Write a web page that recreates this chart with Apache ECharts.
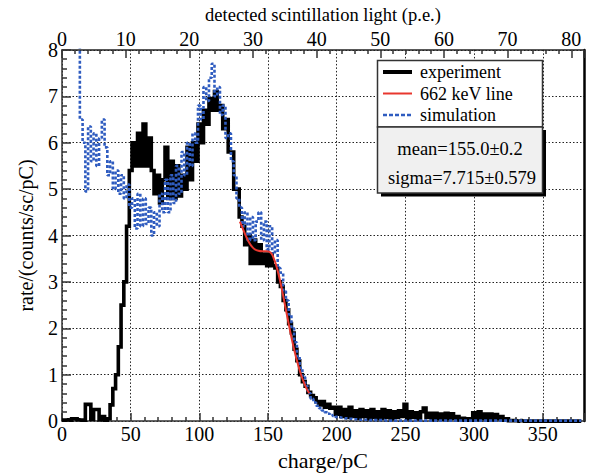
<!DOCTYPE html>
<html><head><meta charset="utf-8">
<script src="https://cdn.jsdelivr.net/npm/echarts@6/dist/echarts.min.js"></script>
<style>html,body{margin:0;padding:0;background:#fff}#c{width:591px;height:476px}</style>
</head><body><div id="c"></div>
<script>
const FONT = '"Liberation Serif","Times New Roman",serif';

// bin centres of the charge histogram (pC): first bin and bin width
const chargeStart = 0;
const chargeStep = 2;

// experiment histogram, rate/(counts/sc/pC), one value per 2 pC bin from 0 to 378 pC
const experiment = [
  0.02,0.02,0.03,0.02,0.05,   0.05,0.03,0.02,0.02,0.36,
  0.36,0.04,0.25,0.25,0.03,   0.1,0.02,0.05,0.35,0.7,
  1.0,1.6,2.5,3.0,4.2,        5.4,6.0,5.5,6.2,5.5,
  6.4,5.5,6.1,5.4,4.9,        5.3,4.7,5.2,5.9,4.8,
  5.6,4.8,5.5,4.85,5.3,       5.0,5.9,5.2,6.0,5.6,
  6.4,6.0,6.7,6.4,6.95,       6.7,7.1,6.7,6.8,6.3,
  6.5,5.8,5.8,5.0,5.0,        4.4,4.2,3.8,4.0,3.4,
  3.9,3.4,3.8,3.4,3.6,        3.35,3.6,3.35,3.3,3.0,
  2.9,2.6,2.4,2.1,1.9,        1.55,1.3,1.0,0.85,0.75,
  0.62,0.55,0.5,0.42,0.35,    0.42,0.3,0.36,0.28,0.3,
  0.15,0.3,0.1,0.25,0.08,     0.3,0.1,0.22,0.06,0.25,
  0.1,0.22,0.05,0.25,0.08,    0.2,0.06,0.25,0.08,0.22,
  0.05,0.2,0.08,0.22,0.1,     0.36,0.05,0.2,0.08,0.18,
  0.05,0.2,0.28,0.08,0.17,    0.03,0.17,0.05,0.15,0.04,
  0.17,0.05,0.16,0.06,0.1,    0.03,0.06,0.02,0.05,0.02,
  0.18,0.03,0.2,0.05,0.15,    0.02,0.15,0.03,0.14,0.05,
  0.1,0.02,0.05,0.01,0.01,    0.01,0,0.01,0,0,
  0,0,0,0,0,                  0,0,0,0,0,
  0,0,0,0,0,                  0,0,0,0,0
];

// simulation histogram, same bins (null = no entry)
const simulation = [
  null,null,null,null,null,   null,9.0,6.5,6.0,4.95,
  6.35,5.6,6.2,5.5,6.1,       6.5,5.9,5.3,5.6,5.0,
  5.4,4.9,5.3,4.8,5.1,        4.6,4.8,4.15,4.9,4.2,
  4.8,4.25,4.6,4.0,4.5,       4.2,4.9,4.5,5.2,4.5,
  5.3,4.7,5.5,4.9,5.8,        5.3,6.0,5.5,6.2,6.0,
  6.8,6.5,7.2,6.9,7.4,        7.7,7.0,7.2,6.6,6.8,
  6.1,6.2,5.6,5.3,4.8,        4.6,4.2,4.5,3.9,4.4,
  3.9,4.3,4.5,3.9,4.3,        3.7,4.2,3.6,3.9,3.3,
  3.2,2.8,2.6,2.3,2.0,        1.7,1.4,1.15,0.95,0.75,
  0.6,0.48,0.4,0.33,0.28,     0.23,0.19,0.16,0.13,0.11,
  0.09,0.08,0.07,0.06,0.05,   0.05,0.04,0.04,0.03,0.03,
  0.03,0.03,0.02,0.02,0.02,   0.02,0.02,0.02,0.01,0.01,
  0.01,0.01,0.01,0.01,0.01,   0.01,0.01,0.01,0.01,0.01,
  0.01,0.01,0.01,0.01,0.01,   0.01,0.01,0.01,0.01,0.01,
  0.01,0.01,0.01,0.01,0.01,   0.01,0.01,0.01,0.01,0.01,
  0.01,0.01,0.01,0.01,0.01,   0.01,0.01,0.01,0.01,0.01,
  0.01,0.01,0.01,0.01,0.01,   0.01,0.01,0.01,0.01,0.01,
  0.01,0.01,0.01,0.01,0.01,   0.01,0.01,0.01,0.01,0.01,
  0.01,0.01,0.01,0.01,0.01,   0.01,0.01,0.01,0.01,0.01
];

// 662 keV fit curve
const fitCharge = [129.5,132,134,136,138,140,143,146,149,152,154,156,158,160,162,164,166,168,170,172,174,176,178,180];
const fitRate   = [4.30,4.12,3.98,3.86,3.77,3.71,3.67,3.66,3.66,3.63,3.52,3.35,3.12,2.85,2.55,2.25,1.95,1.67,1.42,1.2,1.0,0.84,0.7,0.6];

// legend entries and stats box
const seriesNames = ['experiment', '662 keV line', 'simulation'];
const statLines = ['mean=155.0\u00b10.2', 'sigma=7.715\u00b10.579'];

const COLORS = {exp: '#000', fit: '#e8372e', sim: '#2f5cc0'};
const SIM_DASH = [3, 2];

const charge = experiment.map((_, i) => chargeStart + i * chargeStep);
const expData = charge.map((c, i) => [c, experiment[i]]);
const simData = charge.map((c, i) => [c, simulation[i]]);
const fitData = fitCharge.map((c, i) => [c, fitRate[i]]);

const AX = '#333';
const tickStyle = {color: AX, width: 1.5};
const labelStyle = {fontSize: 20, fontFamily: FONT, color: '#000'};
const gridLine = {show: true, lineStyle: {color: '#222', width: 1, type: [1.5, 2]}};

// hand-laid legend box (ROOT style)
const legendRows = [
  {name: seriesNames[0], y: 72, stroke: COLORS.exp, width: 4, dash: null},
  {name: seriesNames[1], y: 93.5, stroke: COLORS.fit, width: 2, dash: null},
  {name: seriesNames[2], y: 115, stroke: COLORS.sim, width: 2.5, dash: [4, 2]}
];
const graphics = [
  {type: 'rect', z: 5, shape: {x: 377.5, y: 60.5, width: 165, height: 66.5},
   style: {fill: '#fff', stroke: '#333', lineWidth: 1.5}},
  {type: 'rect', z: 5, shape: {x: 381, y: 130, width: 165, height: 66.5},
   style: {fill: '#000'}},
  {type: 'rect', z: 5, shape: {x: 377.5, y: 127, width: 165, height: 66},
   style: {fill: '#f0f0f0', stroke: '#333', lineWidth: 1.5}},
  {type: 'text', z: 6, x: 460, y: 149,
   style: {text: statLines[0], font: '18.5px ' + FONT, fill: '#000', textAlign: 'center', textVerticalAlign: 'middle'}},
  {type: 'text', z: 6, x: 462, y: 178,
   style: {text: statLines[1], font: '18.5px ' + FONT, fill: '#000', textAlign: 'center', textVerticalAlign: 'middle'}}
];
legendRows.forEach(r => {
  graphics.push({type: 'line', z: 6, shape: {x1: 383, y1: r.y, x2: 412, y2: r.y},
    style: {stroke: r.stroke, lineWidth: r.width, lineDash: r.dash}});
  graphics.push({type: 'text', z: 6, x: 420, y: r.y,
    style: {text: r.name, font: '18px ' + FONT, fill: '#000', textAlign: 'left', textVerticalAlign: 'middle'}});
});

const chart = echarts.init(document.getElementById('c'), null, {renderer: 'svg'});
chart.setOption({
  backgroundColor: '#fff',
  animation: false,
  grid: {left: 62, top: 46, width: 522, height: 379, containLabel: false},
  xAxis: [
    {
      type: 'value', position: 'bottom', min: 0, max: 380, interval: 50,
      axisLine: {show: true, onZero: false, lineStyle: {color: AX, width: 1.5}},
      axisTick: {show: true, inside: true, length: 8, lineStyle: tickStyle},
      minorTick: {show: true, splitNumber: 5, length: 4, lineStyle: tickStyle},
      axisLabel: Object.assign({margin: 3, showMaxLabel: false}, labelStyle),
      splitLine: gridLine,
      name: 'charge/pC', nameLocation: 'middle', nameGap: 18,
      nameTextStyle: {fontSize: 22, fontFamily: FONT, color: '#000'}
    },
    {
      type: 'value', position: 'top', min: 0, max: 82, interval: 10,
      axisLine: {show: true, onZero: false, lineStyle: {color: '#222', width: 1.5}},
      axisTick: {show: true, inside: true, length: 8, lineStyle: tickStyle},
      minorTick: {show: true, splitNumber: 5, length: 4, lineStyle: tickStyle},
      axisLabel: Object.assign({margin: 1, showMaxLabel: false}, labelStyle),
      splitLine: {show: false},
      name: 'detected scintillation light (p.e.)', nameLocation: 'middle', nameGap: 24,
      nameTextStyle: {fontSize: 18.5, fontFamily: FONT, color: '#000'}
    }
  ],
  yAxis: [
    {
      type: 'value', position: 'left', min: 0, max: 8, interval: 1,
      axisLine: {show: true, onZero: false, lineStyle: {color: AX, width: 1.5}},
      axisTick: {show: true, inside: true, length: 9, lineStyle: tickStyle},
      minorTick: {show: true, splitNumber: 5, length: 5, lineStyle: tickStyle},
      axisLabel: Object.assign({margin: 4}, labelStyle),
      splitLine: gridLine,
      name: 'rate/(counts/sc/pC)', nameLocation: 'middle', nameGap: 26,
      nameTextStyle: {fontSize: 20, fontFamily: FONT, color: '#000'}
    },
    {
      type: 'value', position: 'right', min: 0, max: 8,
      axisLine: {show: true, onZero: false, lineStyle: {color: '#000', width: 2.5}},
      axisTick: {show: false}, axisLabel: {show: false}, splitLine: {show: false}
    }
  ],
  graphic: graphics,
  series: [
    {
      name: seriesNames[0], type: 'line', xAxisIndex: 0, yAxisIndex: 0,
      step: 'middle', symbol: 'none', data: expData, z: 2,
      itemStyle: {color: COLORS.exp},
      lineStyle: {color: COLORS.exp, width: 3.6, join: 'miter'}
    },
    {
      name: seriesNames[1], type: 'line', xAxisIndex: 0, yAxisIndex: 0,
      smooth: 0.4, symbol: 'none', data: fitData, z: 4,
      itemStyle: {color: COLORS.fit},
      lineStyle: {color: COLORS.fit, width: 2}
    },
    {
      name: seriesNames[2], type: 'line', xAxisIndex: 0, yAxisIndex: 0,
      step: 'middle', symbol: 'none', data: simData, z: 3, connectNulls: false,
      itemStyle: {color: COLORS.sim},
      lineStyle: {color: COLORS.sim, width: 2.6, type: SIM_DASH}
    }
  ]
});
</script></body></html>
